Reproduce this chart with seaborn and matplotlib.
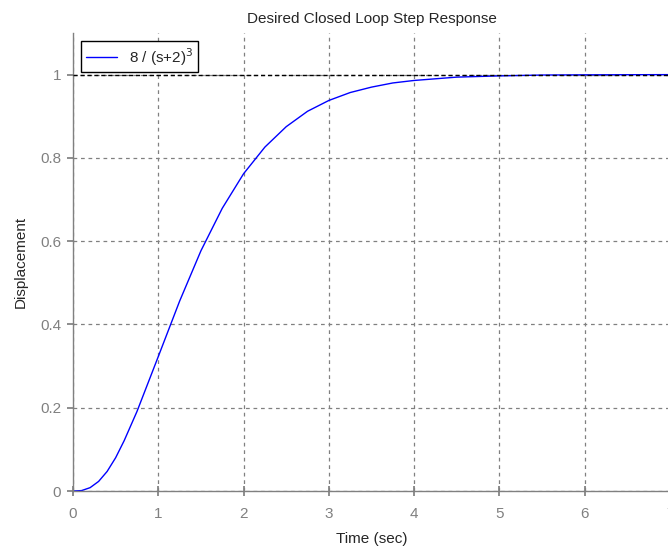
import pandas as pd
import seaborn as sns
import matplotlib.pyplot as plt

# Step response of 8/(s+2)^3
time_sec = [0.0, 0.1, 0.2, 0.3, 0.4, 0.5, 0.6, 0.75, 1.0, 1.25, 1.5, 1.75, 2.0,
            2.25, 2.5, 2.75, 3.0, 3.25, 3.5, 3.75, 4.0, 4.5, 5.0, 5.5, 6.0, 7.0]
displacement = [0.0, 0.001, 0.008, 0.023, 0.047, 0.080, 0.121, 0.191, 0.323,
                0.456, 0.577, 0.679, 0.762, 0.826, 0.875, 0.912, 0.938, 0.957,
                0.970, 0.980, 0.986, 0.994, 0.997, 0.999, 0.9995, 1.0]
series_label = "8 / (s+2)$^3$"
x_ticks = [0, 1, 2, 3, 4, 5, 6, 7]
y_ticks = [0, 0.2, 0.4, 0.6, 0.8, 1]
y_tick_labels = ["0", "0.2", "0.4", "0.6", "0.8", "1"]

sns.set_theme(style="white")
plt.rcParams['font.family'] = ['Liberation Sans', 'DejaVu Sans']

df = pd.DataFrame({"Time (sec)": time_sec, "Displacement": displacement,
                   "series": series_label})

fig = plt.figure(figsize=(6.68, 5.48), dpi=100)
ax = fig.add_axes([0.1093, 0.104, 0.8937, 0.8358])

sns.lineplot(data=df, x="Time (sec)", y="Displacement", hue="series",
             palette=["#0000ff"], linewidth=1.0, ax=ax)

# reference line at steady state
ax.axhline(1.0, color="black", linestyle=(0, (3, 2)), linewidth=1.0, zorder=3)

ax.set_xlim(0, 7)
ax.set_ylim(0, 1.1)
ax.set_xticks(x_ticks)
ax.set_yticks(y_ticks)
ax.set_yticklabels(y_tick_labels)

ax.grid(True, color="#808080", linestyle=(0, (3, 3)), linewidth=0.9)
for side in ["top", "right"]:
    ax.spines[side].set_visible(False)
for side in ["left", "bottom"]:
    ax.spines[side].set_color("#808080")
    ax.spines[side].set_linewidth(1.0)

ax.tick_params(axis="x", direction="inout", length=7, color="#808080",
               labelcolor="#808080", labelsize=11, pad=8, bottom=True)
ax.tick_params(axis="y", direction="out", length=4.5, color="#808080",
               labelcolor="#808080", labelsize=11, pad=4, left=True)

ax.set_title("Desired Closed Loop Step Response", fontsize=11, pad=7)
ax.set_xlabel("Time (sec)", fontsize=11, labelpad=8)
ax.set_ylabel("Displacement", fontsize=11, labelpad=9)

leg = ax.legend(loc="upper left", fontsize=11, fancybox=False,
                edgecolor="black", framealpha=1, handlelength=2.0,
                borderpad=0.3, borderaxespad=0.55, title=None)
leg.get_frame().set_linewidth(1.0)

plt.savefig("out.png", dpi=100)
